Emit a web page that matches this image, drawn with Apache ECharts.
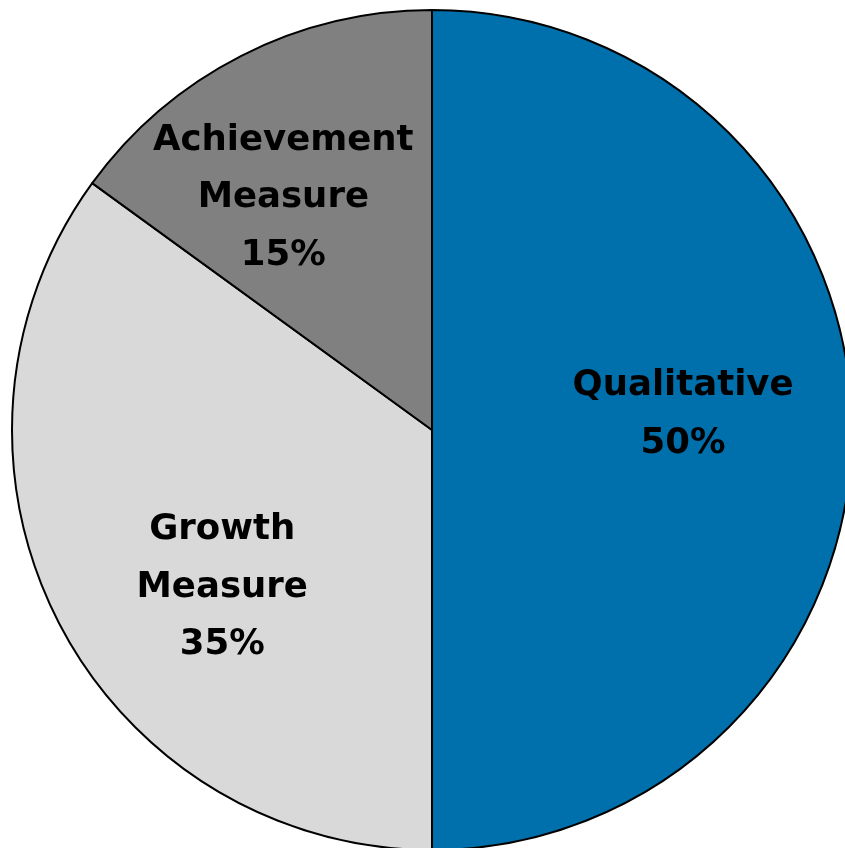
<!DOCTYPE html>
<html>
<head>
<meta charset="utf-8">
<script src="https://cdn.jsdelivr.net/npm/echarts@6/dist/echarts.min.js"></script>
<style>
  html, body { margin: 0; padding: 0; background: #ffffff; }
  #chart { width: 845px; height: 848px; }
</style>
</head>
<body>
<div id="chart"></div>
<script>
// Evaluation weighting by component
const categories = ['Qualitative', 'Growth\nMeasure', 'Achievement\nMeasure'];
const shares = [50, 35, 15];
const colors = ['#0070AD', '#D9D9D9', '#808080'];

// Nudges for each label away from the default inside position
const labelNudge = [[38, -15], [-20, 61], [-52, -42]];

const chart = echarts.init(document.getElementById('chart'), null, { renderer: 'canvas' });

chart.setOption({
  animation: false,
  series: [{
    type: 'pie',
    center: [432, 430],
    radius: [0, 420],
    startAngle: 90,
    clockwise: true,
    avoidLabelOverlap: false,
    emphasis: { disabled: true },
    itemStyle: { borderColor: '#000000', borderWidth: 2 },
    label: {
      show: true,
      position: 'inside',
      formatter: p => p.name + '\n' + p.value + '%',
      fontFamily: 'DejaVu Sans',
      fontWeight: 'bold',
      fontSize: 35.5,
      lineHeight: 57.5,
      color: '#000000',
      align: 'center'
    },
    labelLine: { show: false },
    labelLayout: p => ({ dx: labelNudge[p.dataIndex][0], dy: labelNudge[p.dataIndex][1] }),
    data: categories.map((name, i) => ({
      name: name,
      value: shares[i],
      itemStyle: { color: colors[i] }
    }))
  }]
});
</script>
</body>
</html>
